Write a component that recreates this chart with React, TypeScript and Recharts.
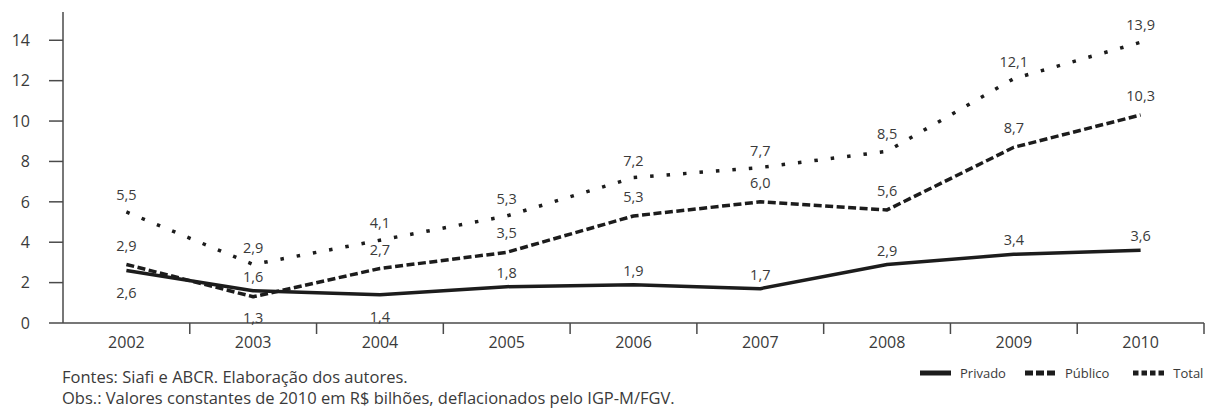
import { LineChart, Line, XAxis, YAxis, Legend, LabelList } from 'recharts';

const years = ['2002', '2003', '2004', '2005', '2006', '2007', '2008', '2009', '2010'];
const privado = [2.6, 1.6, 1.4, 1.8, 1.9, 1.7, 2.9, 3.4, 3.6];
const publico = [2.9, 1.3, 2.7, 3.5, 5.3, 6.0, 5.6, 8.7, 10.3];
const total = [5.5, 2.9, 4.1, 5.3, 7.2, 7.7, 8.5, 12.1, 13.9];
const yTicks = [0, 2, 4, 6, 8, 10, 12, 14];

const fontFamily = '"Open Sans", "Noto Sans", sans-serif';
const ink = '#1c1c1c';
const textColor = '#3a3a3a';
const axisColor = '#4a4a4a';

const plotLeft = 63;
const plotRight = 1204;
const halfBand = (plotRight - plotLeft) / 18;

// which labels sit under their point instead of above it
const labelsBelow: Record<string, string[]> = {
  privado: ['2002', '2004'],
  publico: ['2003'],
  total: [],
};

const data = years.map((year, i) => ({
  year,
  privado: privado[i],
  publico: publico[i],
  total: total[i],
}));

const fmt = (v: number) => v.toFixed(1).replace('.', ',');

const makeLabel = (key: string, above: number, below: number) => (props: any) => {
  const { x, y, value, index } = props;
  const isBelow = labelsBelow[key].includes(years[index]);
  return (
    <text
      x={x}
      y={isBelow ? y + below : y - above}
      dy="0.35em"
      textAnchor="middle"
      fontSize={14.5}
      fill={textColor}
      fontFamily={fontFamily}
    >
      {fmt(value)}
    </text>
  );
};

const XTick = (props: any) => {
  const { x, y, payload } = props;
  return (
    <g>
      <line x1={x + halfBand} y1={y - 14} x2={x + halfBand} y2={y - 3} stroke={axisColor} strokeWidth={1.5} />
      <text x={x} y={y} dy="0.71em" textAnchor="middle" fontSize={16} fill={textColor} fontFamily={fontFamily}>
        {payload.value}
      </text>
    </g>
  );
};

const legendItems = [
  { name: 'Privado', dash: undefined, gap: 19 },
  { name: 'Público', dash: '8 3', gap: 24 },
  { name: 'Total', dash: '5.5 3', gap: 0 },
];

const renderLegend = () => (
  <div
    style={{
      display: 'flex',
      alignItems: 'center',
      fontFamily,
      fontSize: 13,
      color: textColor,
      whiteSpace: 'nowrap',
    }}
  >
    {legendItems.map((item) => (
      <div key={item.name} style={{ display: 'flex', alignItems: 'center', marginRight: item.gap }}>
        <svg width={31} height={6} style={{ marginRight: 9 }}>
          <line x1={0} y1={3} x2={31} y2={3} stroke={ink} strokeWidth={5} strokeDasharray={item.dash} />
        </svg>
        <span>{item.name}</span>
      </div>
    ))}
  </div>
);

const App = () => {
  return (
    <div style={{ position: 'relative', width: 1215, height: 409, margin: '-8px 0 0 -8px', background: '#fff' }}>
      <LineChart
        width={1215}
        height={409}
        data={data}
        margin={{ top: 12, right: 1215 - plotRight, bottom: 56, left: 0 }}
      >
        <XAxis
          dataKey="year"
          height={30}
          padding={{ left: halfBand, right: halfBand }}
          axisLine={{ stroke: axisColor, strokeWidth: 1.5 }}
          tickLine={false}
          tickSize={10}
          tickMargin={4}
          tick={<XTick />}
          interval={0}
        />
        <YAxis
          width={plotLeft}
          domain={[0, 15.4]}
          ticks={yTicks}
          axisLine={{ stroke: axisColor, strokeWidth: 1.5 }}
          tickLine={{ stroke: axisColor, strokeWidth: 1.5 }}
          tickSize={14}
          tickMargin={19}
          tick={{ fontSize: 16, fill: textColor, fontFamily }}
        />
        <Legend
          layout="horizontal"
          verticalAlign="middle"
          content={renderLegend}
          wrapperStyle={{ left: 920, top: 364, width: 295 }}
        />
        <Line
          type="linear"
          dataKey="privado"
          stroke={ink}
          strokeWidth={3.5}
          strokeLinejoin="round"
          dot={false}
          isAnimationActive={false}
        >
          <LabelList dataKey="privado" content={makeLabel('privado', 14, 22)} />
        </Line>
        <Line
          type="linear"
          dataKey="publico"
          stroke={ink}
          strokeWidth={3.5}
          strokeLinejoin="round"
          strokeDasharray="8 3.5"
          dot={false}
          isAnimationActive={false}
        >
          <LabelList dataKey="publico" content={makeLabel('publico', 19, 21)} />
        </Line>
        <Line
          type="linear"
          dataKey="total"
          stroke={ink}
          strokeWidth={3.5}
          strokeDasharray="3.5 13"
          dot={false}
          isAnimationActive={false}
        >
          <LabelList dataKey="total" content={makeLabel('total', 17, 20)} />
        </Line>
      </LineChart>
      <div
        style={{
          position: 'absolute',
          left: 62,
          top: 366,
          fontFamily,
          fontSize: 16.5,
          lineHeight: '21px',
          color: textColor,
          whiteSpace: 'nowrap',
        }}
      >
        <div>Fontes: Siafi e ABCR. Elaboração dos autores.</div>
        <div>Obs.: Valores constantes de 2010 em R$ bilhões, deflacionados pelo IGP-M/FGV.</div>
      </div>
    </div>
  );
};

export default App;
